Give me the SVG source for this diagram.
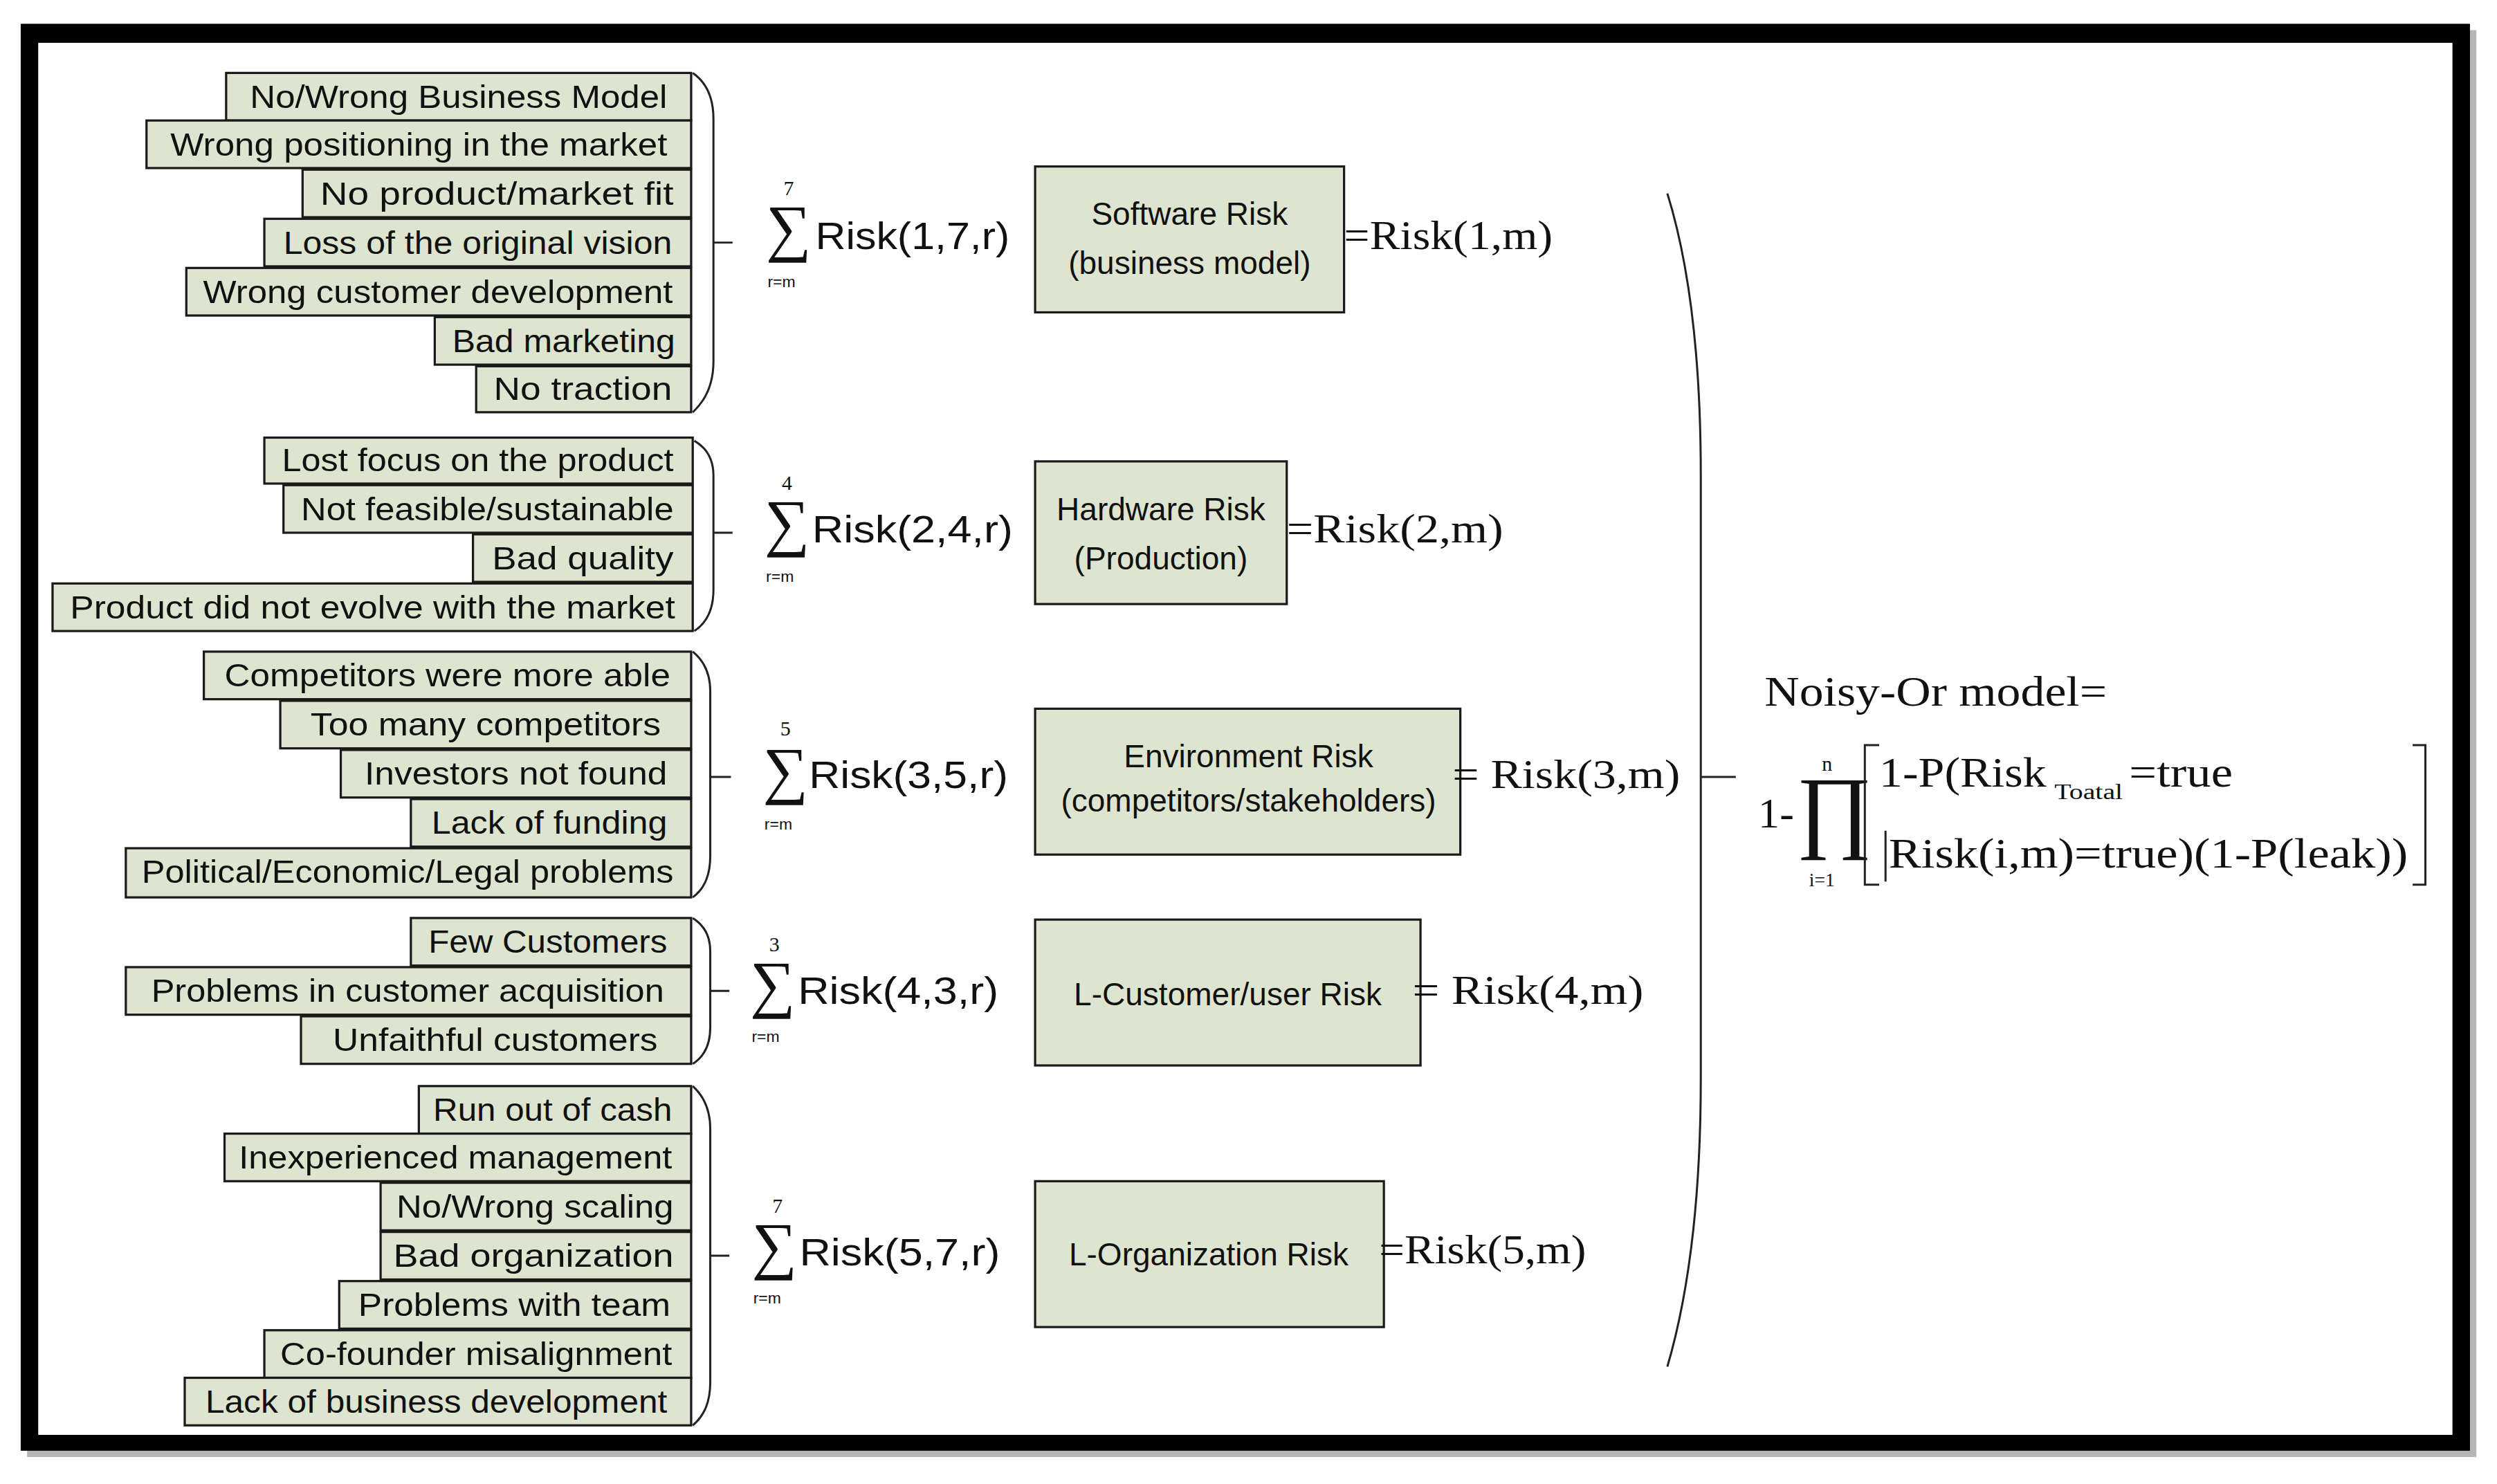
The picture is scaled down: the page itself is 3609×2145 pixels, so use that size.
<svg xmlns="http://www.w3.org/2000/svg" width="3609" height="2145" viewBox="0 0 3609 2145">
<style>
.b{fill:#dde4cf;stroke:#1a1a1a;stroke-width:1.4}
.t{font-family:"Liberation Sans",Arial,sans-serif;font-size:20px;fill:#111;text-anchor:middle}
.s{font-family:"Liberation Sans",Arial,sans-serif;font-size:24px;fill:#111}
.m{font-family:"Liberation Serif","Times New Roman",serif;fill:#111}
.br{fill:none;stroke:#222;stroke-width:1.3}
</style>
<rect width="3609" height="2145" fill="#fff"/>
<g transform="scale(2.3017 2.2917)">
<g id="frame">
<rect x="17" y="19" width="1538" height="900" fill="#b5b5b5"/>
<rect x="13" y="15" width="1538" height="900" fill="#000"/>
<rect x="24" y="27" width="1516" height="878" fill="#fff"/>
</g>
<g id="causes">
<rect class="b" x="142" y="46" width="292" height="30"/><text class="t" x="288" y="68" textLength="262" lengthAdjust="spacingAndGlyphs">No/Wrong Business Model</text>
<rect class="b" x="92" y="76" width="342" height="30"/><text class="t" x="263" y="98" textLength="312" lengthAdjust="spacingAndGlyphs">Wrong positioning in the market</text>
<rect class="b" x="190" y="107" width="244" height="30"/><text class="t" x="312" y="129" textLength="222" lengthAdjust="spacingAndGlyphs">No product/market fit</text>
<rect class="b" x="166" y="138" width="268" height="30"/><text class="t" x="300" y="160" textLength="244" lengthAdjust="spacingAndGlyphs">Loss of the original vision</text>
<rect class="b" x="117" y="169" width="317" height="30"/><text class="t" x="275" y="191" textLength="295" lengthAdjust="spacingAndGlyphs">Wrong customer development</text>
<rect class="b" x="273" y="200" width="161" height="30"/><text class="t" x="354" y="222" textLength="140" lengthAdjust="spacingAndGlyphs">Bad marketing</text>
<rect class="b" x="299" y="231" width="135" height="29"/><text class="t" x="366" y="252" textLength="112" lengthAdjust="spacingAndGlyphs">No traction</text>

<rect class="b" x="166" y="276" width="269" height="29"/><text class="t" x="300" y="297" textLength="246" lengthAdjust="spacingAndGlyphs">Lost focus on the product</text>
<rect class="b" x="178" y="306" width="257" height="30"/><text class="t" x="306" y="328" textLength="234" lengthAdjust="spacingAndGlyphs">Not feasible/sustainable</text>
<rect class="b" x="297" y="337" width="138" height="30"/><text class="t" x="366" y="359" textLength="114" lengthAdjust="spacingAndGlyphs">Bad quality</text>
<rect class="b" x="33" y="368" width="402" height="30"/><text class="t" x="234" y="390" textLength="380" lengthAdjust="spacingAndGlyphs">Product did not evolve with the market</text>

<rect class="b" x="128" y="411" width="306" height="30"/><text class="t" x="281" y="433" textLength="280" lengthAdjust="spacingAndGlyphs">Competitors were more able</text>
<rect class="b" x="176" y="442" width="258" height="30"/><text class="t" x="305" y="464" textLength="220" lengthAdjust="spacingAndGlyphs">Too many competitors</text>
<rect class="b" x="214" y="473" width="220" height="30"/><text class="t" x="324" y="495" textLength="190" lengthAdjust="spacingAndGlyphs">Investors not found</text>
<rect class="b" x="258" y="504" width="176" height="30"/><text class="t" x="345" y="526" textLength="148" lengthAdjust="spacingAndGlyphs">Lack of funding</text>
<rect class="b" x="79" y="535" width="355" height="31"/><text class="t" x="256" y="557" textLength="334" lengthAdjust="spacingAndGlyphs">Political/Economic/Legal problems</text>

<rect class="b" x="258" y="579" width="176" height="30"/><text class="t" x="344" y="601" textLength="150" lengthAdjust="spacingAndGlyphs">Few Customers</text>
<rect class="b" x="79" y="610" width="355" height="30"/><text class="t" x="256" y="632" textLength="322" lengthAdjust="spacingAndGlyphs">Problems in customer acquisition</text>
<rect class="b" x="189" y="641" width="245" height="30"/><text class="t" x="311" y="663" textLength="204" lengthAdjust="spacingAndGlyphs">Unfaithful customers</text>

<rect class="b" x="263" y="685" width="171" height="30"/><text class="t" x="347" y="707" textLength="150" lengthAdjust="spacingAndGlyphs">Run out of cash</text>
<rect class="b" x="141" y="715" width="293" height="30"/><text class="t" x="286" y="737" textLength="272" lengthAdjust="spacingAndGlyphs">Inexperienced management</text>
<rect class="b" x="239" y="746" width="195" height="30"/><text class="t" x="336" y="768" textLength="174" lengthAdjust="spacingAndGlyphs">No/Wrong scaling</text>
<rect class="b" x="239" y="777" width="195" height="30"/><text class="t" x="335" y="799" textLength="176" lengthAdjust="spacingAndGlyphs">Bad organization</text>
<rect class="b" x="213" y="808" width="221" height="30"/><text class="t" x="323" y="830" textLength="196" lengthAdjust="spacingAndGlyphs">Problems with team</text>
<rect class="b" x="166" y="839" width="268" height="30"/><text class="t" x="299" y="861" textLength="246" lengthAdjust="spacingAndGlyphs">Co-founder misalignment</text>
<rect class="b" x="116" y="869" width="318" height="30"/><text class="t" x="274" y="891" textLength="290" lengthAdjust="spacingAndGlyphs">Lack of business development</text>
</g>
<g id="connectors">
<path class="br" d="M435 46 Q448 55 448 75 V228 Q448 248 435 260 M448 153 H460"/>
<path class="br" d="M436 278 Q448 285 448 300 V372 Q448 390 436 398 M448 336 H460"/>
<path class="br" d="M435 411 Q446 420 446 436 V540 Q446 558 435 566 M446 490 H459"/>
<path class="br" d="M435 579 Q446 586 446 600 V648 Q446 664 435 671 M446 625 H458"/>
<path class="br" d="M435 685 Q446 695 446 712 V872 Q446 890 435 899 M446 792 H458"/>
<path class="br" d="M1047 122 Q1068 190 1068 300 V680 Q1068 790 1047 862 M1068 490 H1090"/>
</g>
<g id="sums" class="s">
<text class="m" x="492" y="123" font-size="13">7</text><text class="m" x="481" y="157" font-size="40">∑</text><text x="482" y="181" font-size="10">r=m</text><text x="512" y="157" textLength="122" lengthAdjust="spacingAndGlyphs">Risk(1,7,r)</text>
<text class="m" x="491" y="309" font-size="13">4</text><text class="m" x="480" y="343" font-size="40">∑</text><text x="481" y="367" font-size="10">r=m</text><text x="510" y="342" textLength="126" lengthAdjust="spacingAndGlyphs">Risk(2,4,r)</text>
<text class="m" x="490" y="464" font-size="13">5</text><text class="m" x="479" y="499" font-size="40">∑</text><text x="480" y="523" font-size="10">r=m</text><text x="508" y="497" textLength="125" lengthAdjust="spacingAndGlyphs">Risk(3,5,r)</text>
<text class="m" x="483" y="600" font-size="13">3</text><text class="m" x="471" y="634" font-size="40">∑</text><text x="472" y="657" font-size="10">r=m</text><text x="501" y="633" textLength="126" lengthAdjust="spacingAndGlyphs">Risk(4,3,r)</text>
<text class="m" x="485" y="765" font-size="13">7</text><text class="m" x="472" y="799" font-size="40">∑</text><text x="473" y="822" font-size="10">r=m</text><text x="502" y="798" textLength="126" lengthAdjust="spacingAndGlyphs">Risk(5,7,r)</text>
</g>
<g id="risk1"><rect class="b" x="650" y="105" width="194" height="92"/><text class="t" x="747" y="142">Software Risk</text><text class="t" x="747" y="173">(business model)</text><text class="m" x="844" y="157" font-size="26" textLength="131" lengthAdjust="spacingAndGlyphs">=Risk(1,m)</text></g>
<g id="risk2"><rect class="b" x="650" y="291" width="158" height="90"/><text class="t" x="729" y="328">Hardware Risk</text><text class="t" x="729" y="359">(Production)</text><text class="m" x="808" y="342" font-size="26" textLength="136" lengthAdjust="spacingAndGlyphs">=Risk(2,m)</text></g>
<g id="risk3"><rect class="b" x="650" y="447" width="267" height="92"/><text class="t" x="784" y="484" font-size="18">Environment Risk</text><text class="t" x="784" y="512" font-size="18">(competitors/stakeholders)</text><text class="m" x="912" y="497" font-size="26" textLength="143" lengthAdjust="spacingAndGlyphs">= Risk(3,m)</text></g>
<g id="risk4"><rect class="b" x="650" y="580" width="242" height="92"/><text class="t" x="771" y="634">L-Customer/user Risk</text><text class="m" x="887" y="633" font-size="26" textLength="145" lengthAdjust="spacingAndGlyphs">= Risk(4,m)</text></g>
<g id="risk5"><rect class="b" x="650" y="745" width="219" height="92"/><text class="t" x="759" y="798">L-Organization Risk</text><text class="m" x="866" y="797" font-size="26" textLength="130" lengthAdjust="spacingAndGlyphs">=Risk(5,m)</text></g>
<g id="formula" class="m">
<text x="1108" y="445" font-size="27" textLength="215" lengthAdjust="spacingAndGlyphs">Noisy-Or model=</text>
<text x="1104" y="522" font-size="27">1-</text>
<text x="1128" y="530" font-size="58">∏</text>
<text x="1144" y="486" font-size="13">n</text>
<text x="1136" y="559" font-size="12">i=1</text>
<path class="br" d="M1180 470 H1171 V558 H1180 M1184 524 V556 M1515 470 H1523 V558 H1515" stroke-width="1.5"/>
<text x="1180" y="496" font-size="27" textLength="105" lengthAdjust="spacingAndGlyphs">1-P(Risk</text>
<text x="1290" y="504" font-size="14" textLength="43" lengthAdjust="spacingAndGlyphs">Toatal</text>
<text x="1337" y="496" font-size="27" textLength="65" lengthAdjust="spacingAndGlyphs">=true</text>
<text x="1186" y="547" font-size="27" textLength="326" lengthAdjust="spacingAndGlyphs">Risk(i,m)=true)(1-P(leak))</text>
</g>
</g>
</svg>
